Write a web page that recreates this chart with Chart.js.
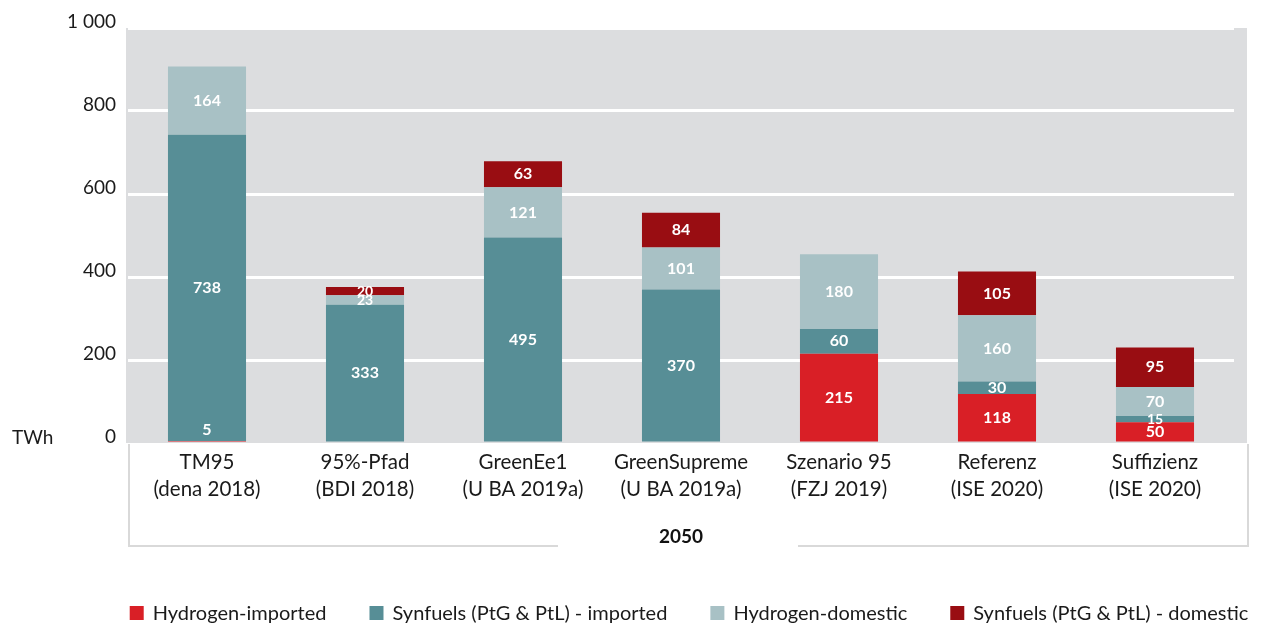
<!DOCTYPE html>
<html>
<head>
<meta charset="utf-8">
<script src="https://cdn.jsdelivr.net/npm/chart.js@4"></script>
<style>
  html, body { margin: 0; padding: 0; background: #fff; }
  #wrap { width: 1263px; height: 625px; }
</style>
</head>
<body>
<div id="wrap"><canvas id="chart"></canvas></div>
<script>
// Scenarios (two-line category labels)
const scenarios = [
    ['TM95', '(dena 2018)'],
    ['95%-Pfad', '(BDI 2018)'],
    ['GreenEe1', '(U BA 2019a)'],
    ['GreenSupreme', '(U BA 2019a)'],
    ['Szenario 95', '(FZJ 2019)'],
    ['Referenz', '(ISE 2020)'],
    ['Suffizienz', '(ISE 2020)']
];

// Values in TWh, null where a scenario has no such segment
const hydrogenImported = [5, null, null, null, 215, 118, 50];
const synfuelsImported = [738, 333, 495, 370, 60, 30, 15];
const hydrogenDomestic = [164, 23, 121, 101, 180, 160, 70];
const synfuelsDomestic = [null, 20, 63, 84, null, 105, 95];

const yTicks = [0, 200, 400, 600, 800, 1000];
const yearLabel = '2050';
const unitLabel = 'TWh';

const FONT = 'Lato, "Open Sans", sans-serif';
const TEXT = '#1a1a1a';

// Grey plot background, TWh unit and the frame round the scenario names
const decorations = {
    id: 'decorations',
    beforeDraw(chart) {
        const { ctx, chartArea: a } = chart;
        ctx.save();
        ctx.fillStyle = '#dcdddf';
        ctx.fillRect(a.left - 2, a.top, a.right - a.left + 15, a.bottom - a.top);

        const boxLeft = a.left + 1;
        const boxRight = a.right + 14;
        const boxBottom = a.bottom + 103;
        const mid = (a.left + a.right) / 2 - 3;
        ctx.strokeStyle = '#d9d9d9';
        ctx.lineWidth = 2;
        ctx.beginPath();
        ctx.moveTo(boxLeft, a.bottom + 1);
        ctx.lineTo(boxLeft, boxBottom);
        ctx.lineTo(mid - 120, boxBottom);
        ctx.moveTo(mid + 120, boxBottom);
        ctx.lineTo(boxRight, boxBottom);
        ctx.lineTo(boxRight, a.bottom + 1);
        ctx.stroke();

        ctx.fillStyle = TEXT;
        ctx.font = '19px ' + FONT;
        ctx.textAlign = 'left';
        ctx.textBaseline = 'middle';
        ctx.fillText(unitLabel, 12, a.bottom - 5);
        ctx.restore();
    }
};

// White numbers inside each segment
const barValueLabels = {
    id: 'barValueLabels',
    afterDatasetsDraw(chart) {
        const ctx = chart.ctx;
        ctx.save();
        ctx.fillStyle = '#ffffff';
        ctx.textAlign = 'center';
        ctx.textBaseline = 'middle';
        chart.data.datasets.forEach((ds, i) => {
            chart.getDatasetMeta(i).data.forEach((bar, j) => {
                const v = ds.data[j];
                if (v == null) return;
                const h = bar.base - bar.y;
                let y = (bar.y + bar.base) / 2;
                let size = h < 12 ? 14 : 16;
                if (h < 4) { // sliver: sit just above it
                    y = bar.y - 11;
                    size = 16;
                }
                ctx.font = 'bold ' + size + 'px ' + FONT;
                ctx.fillText(v, bar.x, y);
            });
        });
        ctx.restore();
    }
};

// Legend row at the bottom
const bottomLegend = {
    id: 'bottomLegend',
    afterDraw(chart) {
        const { ctx, chartArea: a } = chart;
        const box = 14, gap = 43, textGap = 9;
        ctx.save();
        ctx.font = '20px ' + FONT;
        ctx.textBaseline = 'middle';
        ctx.textAlign = 'left';
        const items = chart.data.datasets.map(ds => ({
            text: ds.label,
            color: ds.backgroundColor,
            w: box + textGap + ctx.measureText(ds.label).width
        }));
        const total = items.reduce((s, it) => s + it.w, 0) + gap * (items.length - 1);
        let x = (a.left + a.right) / 2 + 8 - total / 2;
        const y = 613;
        items.forEach(it => {
            ctx.fillStyle = it.color;
            ctx.fillRect(x, y - box / 2, box, box);
            ctx.fillStyle = TEXT;
            ctx.fillText(it.text, x + box + textGap, y + 1);
            x += it.w + gap;
        });
        ctx.restore();
    }
};

const dataset = (label, data, color) => ({
    label: label,
    data: data,
    backgroundColor: color,
    borderWidth: 0,
    barPercentage: 0.494,
    categoryPercentage: 1
});

new Chart(document.getElementById('chart'), {
    type: 'bar',
    data: {
        labels: scenarios,
        datasets: [
            dataset('Hydrogen-imported', hydrogenImported, '#d91f26'),
            dataset('Synfuels (PtG & PtL) - imported', synfuelsImported, '#578e96'),
            dataset('Hydrogen-domestic', hydrogenDomestic, '#a8c1c5'),
            dataset('Synfuels (PtG & PtL) - domestic', synfuelsDomestic, '#990d12')
        ]
    },
    options: {
        responsive: true,
        maintainAspectRatio: false,
        animation: false,
        layout: { padding: { top: 28, right: 29, left: 0, bottom: 75 } },
        plugins: {
            legend: { display: false },
            tooltip: { enabled: false }
        },
        scales: {
            x: {
                stacked: true,
                grid: { display: false, drawTicks: false },
                border: { display: false },
                ticks: {
                    color: TEXT,
                    padding: 6,
                    font: { family: FONT, size: 20.5, lineHeight: 1.32 }
                },
                title: {
                    display: true,
                    text: yearLabel,
                    color: '#111',
                    font: { family: FONT, size: 19, weight: 'bold' },
                    padding: { top: 0, bottom: 2 }
                },
                afterFit(scale) { scale.height = 107; }
            },
            y: {
                stacked: true,
                min: 0,
                max: 1000,
                afterBuildTicks(scale) { scale.ticks = yTicks.map(v => ({ value: v })); },
                grid: {
                    drawTicks: false,
                    color: c => (c.tick && c.tick.value === 0 ? 'rgba(0,0,0,0)' : '#ffffff'),
                    lineWidth: 3
                },
                border: { display: false },
                ticks: {
                    color: TEXT,
                    padding: 12,
                    labelOffset: -6,
                    font: { family: FONT, size: 19 },
                    callback: v => String(v).replace(/\B(?=(\d{3})+(?!\d))/g, ' ')
                },
                afterFit(scale) { scale.width = 128; }
            }
        }
    },
    plugins: [decorations, barValueLabels, bottomLegend]
});
</script>
</body>
</html>
